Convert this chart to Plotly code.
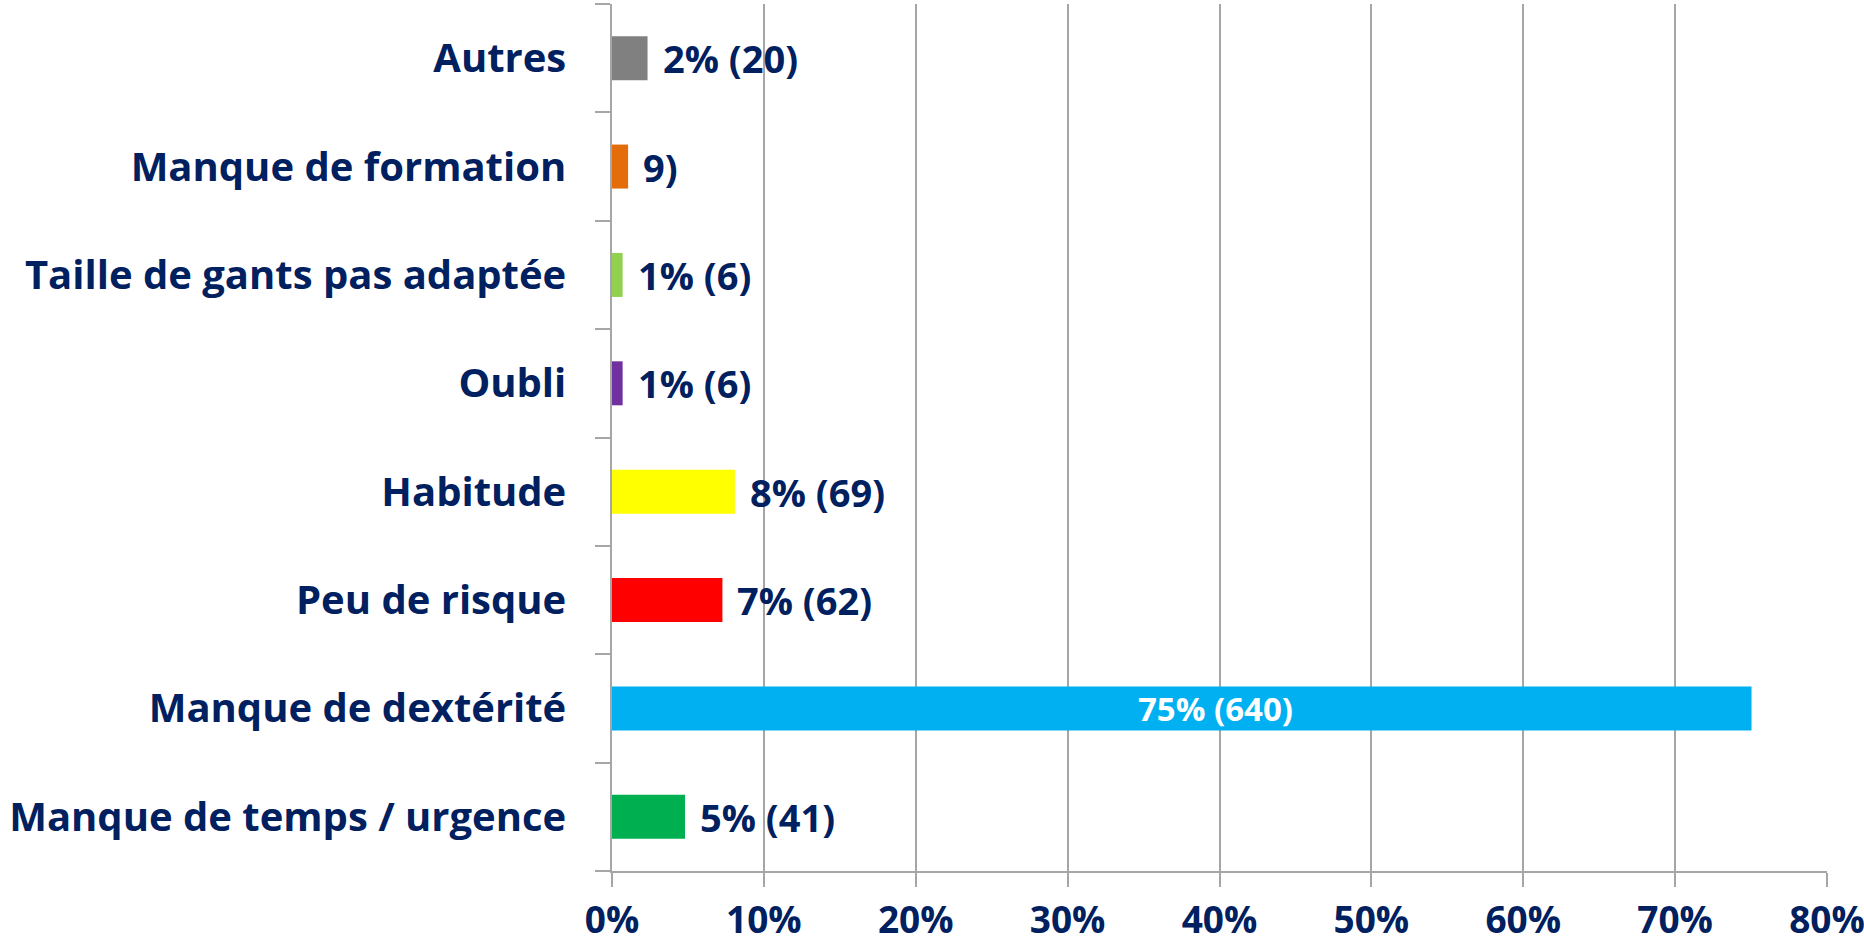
import plotly.graph_objects as go

categories = ["Manque de temps / urgence", "Manque de dextérité", "Peu de risque", "Habitude",
              "Oubli", "Taille de gants pas adaptée", "Manque de formation", "Autres"]
percent = [4.81, 75.03, 7.27, 8.09, 0.70, 0.70, 1.06, 2.34]
labels = ["5% (41)", "75% (640)", "7% (62)", "8% (69)", "1% (6)", "1% (6)", "9)", "2% (20)"]
colors = ["#00B050", "#00B0F0", "#FF0000", "#FFFF00", "#7030A0", "#92D050", "#E46C0A", "#808080"]

NAVY = "#002060"
FONT = "Open Sans"
GRID = "#A6A6A6"
FS = 38

fig = go.Figure()
fig.add_trace(go.Bar(
    x=percent, y=categories, orientation="h",
    marker=dict(color=colors, line=dict(width=0)),
    hoverinfo="skip",
))

annotations = []
for cat, val, lab in zip(categories, percent, labels):
    if val > 50:
        annotations.append(dict(x=val / 2, y=cat, xref="x", yref="y", text="<b>%s</b>" % lab,
                                showarrow=False, xanchor="center", yanchor="middle", xshift=34,
                                font=dict(family=FONT, size=33, color="white")))
    else:
        annotations.append(dict(x=val, y=cat, xref="x", yref="y", text="<b>%s</b>" % lab,
                                showarrow=False, xanchor="left", yanchor="middle", xshift=13,
                                font=dict(family=FONT, size=FS, color=NAVY)))

fig.update_layout(
    width=1864, height=947,
    margin=dict(l=612, r=37, t=4, b=76, autoexpand=False),
    paper_bgcolor="white", plot_bgcolor="white",
    bargap=0.594,
    showlegend=False,
    annotations=annotations,
    font=dict(family=FONT, color=NAVY),
)
fig.update_xaxes(
    range=[0, 80], dtick=10, ticksuffix="%",
    showgrid=True, gridcolor=GRID, gridwidth=1.5,
    showline=True, linecolor=GRID, linewidth=1.5,
    ticks="outside", ticklen=14, tickcolor=GRID, tickwidth=1.5,
    tickfont=dict(family=FONT, size=37, color=NAVY, weight="bold"),
    ticklabelstandoff=2, ticklabeloverflow="allow",
    zeroline=False, fixedrange=True, automargin=False,
)
fig.update_yaxes(
    categoryorder="array", categoryarray=categories,
    showgrid=False, showline=True, linecolor=GRID, linewidth=1.5,
    ticks="outside", ticklen=15, tickcolor=GRID, tickwidth=1.5, tickson="boundaries",
    tickfont=dict(family=FONT, size=40, color=NAVY, weight="bold"),
    ticklabelstandoff=36,
    fixedrange=True, automargin=False,
)

fig.write_html("out.html", config={"displayModeBar": False},
               post_script="document.body.style.margin='0';document.body.style.overflow='hidden';")
